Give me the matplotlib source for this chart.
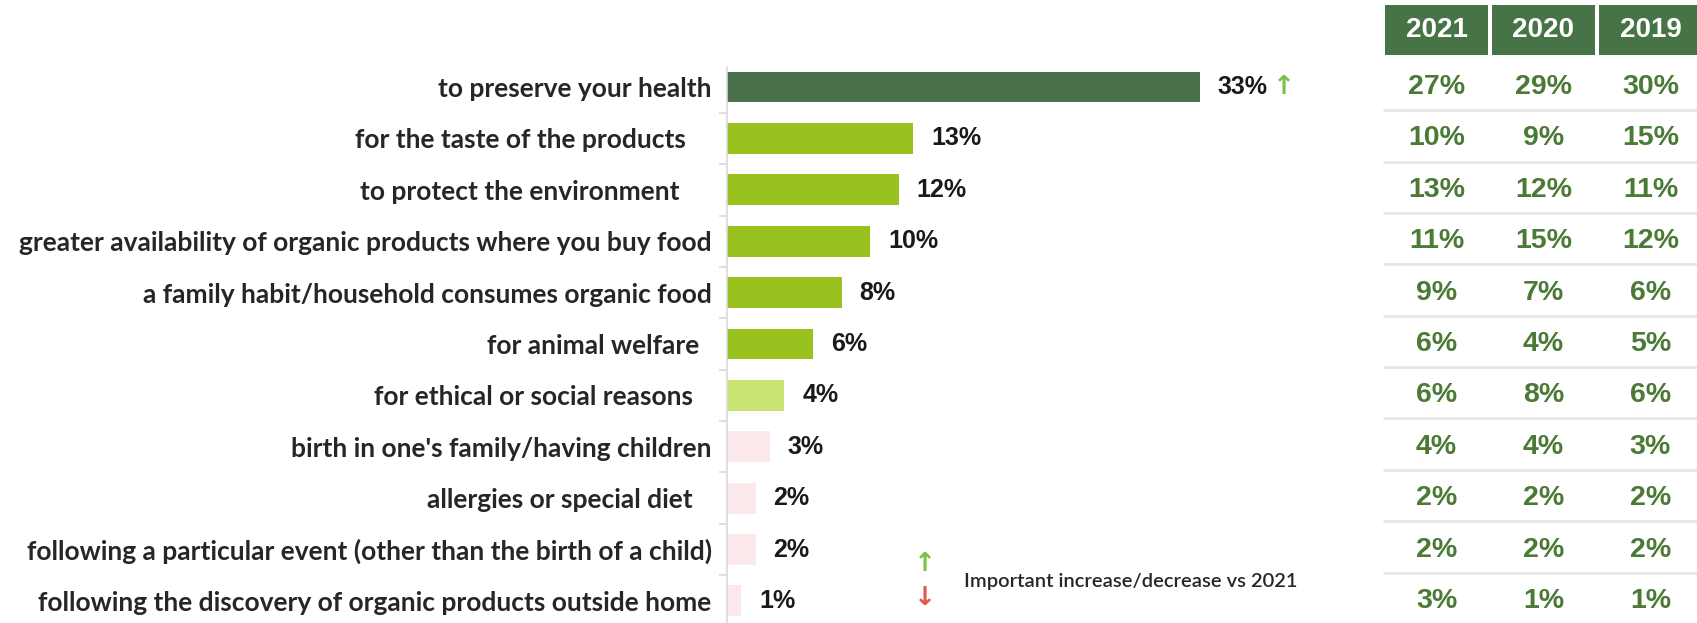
import matplotlib
matplotlib.use("Agg")
import matplotlib.pyplot as plt
from matplotlib.patches import Rectangle
import numpy as np

reasons = [
    "to preserve your health",
    "for the taste of the products    ",
    "to protect the environment     ",
    "greater availability of organic products where you buy food",
    "a family habit/household consumes organic food",
    "for animal welfare  ",
    "for ethical or social reasons   ",
    "birth in one's family/having children",
    "allergies or special diet   ",
    "following a particular event (other than the birth of a child)",
    "following the discovery of organic products outside home",
]
share_2022 = [33, 13, 12, 10, 8, 6, 4, 3, 2, 2, 1]
years = ["2021", "2020", "2019"]
share_2021 = [27, 10, 13, 11, 9, 6, 6, 4, 2, 2, 3]
share_2020 = [29, 9, 12, 15, 7, 4, 8, 4, 2, 2, 1]
share_2019 = [30, 15, 11, 12, 6, 5, 6, 3, 2, 2, 1]
bar_colors = ["#4a7149"] + ["#9ac21f"] * 5 + ["#c9e374"] + ["#fbe8ea"] * 4

W, H = 1697, 623
fig = plt.figure(figsize=(W / 100, H / 100), dpi=100)

# bar chart
ax = fig.add_axes([727 / W, 0, (1300 - 727) / W, (H - 67) / H])
ypos = np.arange(len(reasons))
ax.barh(ypos, share_2022, height=0.6, color=bar_colors)
ax.set_xlim(0, 40)
ax.set_ylim(10.43, -0.39)
for s in ["top", "right", "bottom"]:
    ax.spines[s].set_visible(False)
ax.spines["left"].set_color("#d9d9d9")
ax.spines["left"].set_linewidth(1.2)
ax.set_xticks([])
ax.set_yticks(ypos)
ax.set_yticklabels(reasons, fontfamily="Lato", fontweight="bold", fontsize=19, color="#262626")
ax.tick_params(axis="y", which="major", length=0, pad=11)
ax.set_yticks(ypos[:-1] + 0.5, minor=True)
ax.tick_params(axis="y", which="minor", length=6, color="#d9d9d9", width=1.2)

for i, v in enumerate(share_2022):
    ax.text(v + 1.25, i, f"{v}%", va="center", ha="left", fontfamily="Liberation Sans",
            fontweight="bold", fontsize=18, color="#1a1a1a")
ax.text(share_2022[0] + 5.9, 0, "\u2191", va="center", ha="center", fontsize=19,
        fontweight="bold", color="#7cc143")

# legend
fig.text(925 / W, 1 - 564 / H, "\u2191", va="center", ha="center", fontsize=19,
         fontweight="bold", color="#7cc143")
fig.text(925 / W, 1 - 598 / H, "\u2193", va="center", ha="center", fontsize=19,
         fontweight="bold", color="#e05a48")
fig.text(964 / W, 1 - 581 / H, "Important increase/decrease vs 2021", va="center", ha="left",
         fontfamily="Lato", fontweight="semibold", fontsize=14.5, color="#262626")

# table of previous years
tx = fig.add_axes([1383 / W, 0, (W - 1383) / W, 1])
tx.set_xlim(0, 2.935)
tx.set_ylim(10.43, -1.693)
tx.axis("off")
cols = [share_2021, share_2020, share_2019]
for c, (yr, vals) in enumerate(zip(years, cols)):
    x0 = c + 0.015
    x1 = min(c + 1 - 0.015, 2.935)
    tx.add_patch(Rectangle((x0, -1.6), x1 - x0, 0.977, color="#477447", lw=0))
    tx.text(c + 0.5, -1.1, yr, ha="center", va="center", color="white",
            fontfamily="Liberation Sans", fontweight="bold", fontsize=20)
    for r, v in enumerate(vals):
        tx.text(c + 0.5, r, f"{v}%", ha="center", va="center", color="#4b7a36",
                fontfamily="Liberation Sans", fontweight="bold", fontsize=20.5)
tx.hlines(ypos[:-1] + 0.45, 0, 2.935, color="#e6e6e6", lw=2)

fig.savefig("out.png", dpi=100)
